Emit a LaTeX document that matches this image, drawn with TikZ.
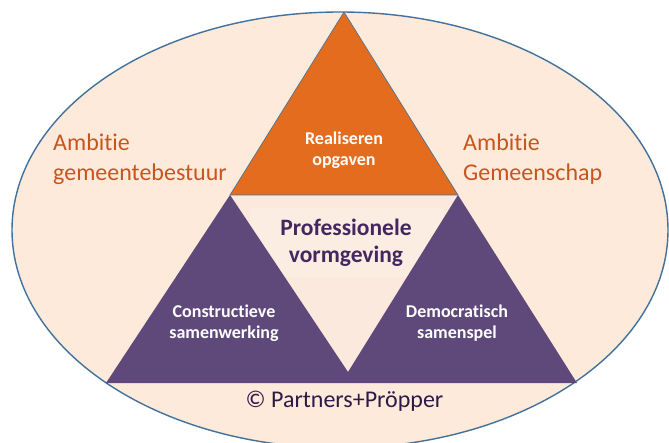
\documentclass[tikz,border=0pt]{standalone}
\usepackage{fontspec}
\setmainfont{Carlito}[Ligatures={NoCommon,NoContextual}]
\definecolor{ellfill}{HTML}{FDEADA}
\definecolor{ellline}{HTML}{41719C}
\definecolor{orangetri}{HTML}{E46C1F}
\definecolor{purpletri}{HTML}{5F497A}
\definecolor{midfill}{HTML}{FBE9DD}
\definecolor{boxfill}{HTML}{FCEDE3}
\definecolor{ambtext}{HTML}{C8551E}
\definecolor{proftext}{HTML}{432860}
\definecolor{copytext}{HTML}{2E1A47}
\tikzset{
  ambition/.style={anchor=base west, align=left, inner sep=0pt, text=ambtext,
    font=\fontsize{24}{30}\selectfont},
  innerlabel/.style={anchor=base, align=center, inner sep=0pt, text=white,
    font=\bfseries\fontsize{18}{21.5}\selectfont},
}
\begin{document}
\begin{tikzpicture}[x=1pt,y=-1pt]
\useasboundingbox (0,0) rectangle (669,443);
\clip (0,0) rectangle (669,443);
% ellipse
\draw[ellline, line width=1.4pt, fill=ellfill] (340,230) ellipse [x radius=328, y radius=218];
% vertices
\coordinate (top) at (344,12);
\coordinate (ml) at (230,195);
\coordinate (mr) at (458,195);
\coordinate (mv) at (348,372);
\coordinate (bl) at (106,383);
\coordinate (br) at (577,383);
% middle triangle
\fill[midfill] (ml) -- (mr) -- (mv) -- cycle;
% text box (behind the purple shapes)
\node[fill=boxfill, minimum width=193, minimum height=69, inner sep=0pt] (box) at (346.5,242.5) {};
% purple shape
\fill[purpletri] (bl) -- (ml) -- (mv) -- (mr) -- (br) -- cycle;
% orange triangle
\draw[ellline, line width=0.6pt, fill=orangetri, line join=miter] (top) -- (ml) -- (mr) -- cycle;
\node[anchor=base, align=center, inner sep=0pt, text=proftext,
  font=\bfseries\fontsize{23.5}{27.5}\selectfont] (prof) at (346,263) {Professionele\\vormgeving};
% labels
\node[innerlabel] (real) at (344,166) {Realiseren\\opgaven};
\node[innerlabel] (cons) at (224,339) {Constructieve\\samenwerking};
\node[innerlabel] (demo) at (457,339) {Democratisch\\samenspel};
\node[ambition] (amb1) at (53,181) {Ambitie\\gemeentebestuur};
\node[ambition] (amb2) at (463,181) {Ambitie\\Gemeenschap};
\node[anchor=base, inner sep=0pt, text=copytext, font=\fontsize{24}{30}\selectfont] (copy) at (344.5,407) {© Partners+Pröpper};
\end{tikzpicture}
\end{document}
